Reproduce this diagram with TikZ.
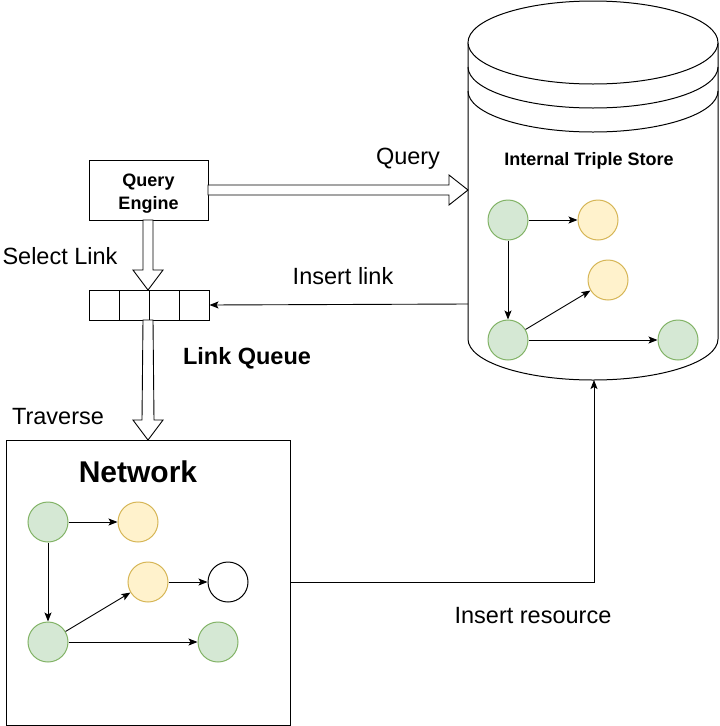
\documentclass[tikz,border=0pt]{standalone}
\usepackage{fontspec}
\setmainfont{Liberation Sans}
\usetikzlibrary{arrows.meta}
\begin{document}
\begin{tikzpicture}[x=1pt,y=-1pt,line width=1pt,
  lbl/.style={font=\fontsize{23.5}{27}\selectfont, inner sep=0pt, anchor=base},
  blbl/.style={font=\bfseries\fontsize{18}{23}\selectfont, inner sep=0pt, anchor=base},
  gnode/.style={circle, minimum size=40pt, inner sep=0pt, draw={rgb,255:red,130;green,179;blue,102}, fill={rgb,255:red,213;green,232;blue,212}},
  ynode/.style={circle, minimum size=40pt, inner sep=0pt, draw={rgb,255:red,214;green,182;blue,86}, fill={rgb,255:red,255;green,242;blue,204}},
  wnode/.style={circle, minimum size=40pt, inner sep=0pt, draw=black, fill=white},
  arr/.style={-{Stealth[length=9pt,width=7pt,inset=2pt]}, line width=0.9pt},
  hollow/.style={draw=black, fill=white, line width=0.9pt}]
\useasboundingbox (0,0) rectangle (720,726);

% ---- cylinder (Internal Triple Store)
\draw[fill=white] (468,43) -- (468,339)
  .. controls (468,361.6) and (524,380) .. (593,380)
  .. controls (662,380) and (718,361.6) .. (718,339) -- (718,43);
\draw[fill=white] (593,42.5) ellipse [x radius=125pt, y radius=41.5pt];
\draw (468,67) .. controls (468,89.6) and (524,108) .. (593,108)
  .. controls (662,108) and (718,89.6) .. (718,67);
\draw (468,91) .. controls (468,113.6) and (524,132) .. (593,132)
  .. controls (662,132) and (718,113.6) .. (718,91);
\coordinate (storeL) at (468,304);
\coordinate (storeB) at (594,380);
\node[blbl] (its) at (589,165) {Internal Triple Store};

\node[gnode] (s1) at (508,220) {};
\node[ynode] (s2) at (598,220) {};
\node[ynode] (s3) at (608,280) {};
\node[gnode] (s4) at (508,340) {};
\node[gnode] (s5) at (678,340) {};
\draw[arr] (s1) -- (s2);
\draw[arr] (s1) -- (s4);
\draw[arr] (s4) -- (s3);
\draw[arr] (s4) -- (s5);

% ---- Query Engine
\node[draw, minimum width=119pt, minimum height=60pt, inner sep=0pt] (qe) at (148.5,190) {};
\node[font=\bfseries\fontsize{18}{23}\selectfont, align=center, inner sep=0pt] (qetext) at (148.5,194) {Query\\Engine};

% ---- Link queue
\node[draw, minimum width=120pt, minimum height=30pt, inner sep=0pt] (queue) at (149,305) {};
\draw (119,290) -- (119,320) (149,290) -- (149,320) (179,290) -- (179,320);

% ---- Network box
\node[draw, minimum width=284pt, minimum height=285pt, inner sep=0pt] (net) at (148,582.5) {};
\node[font=\bfseries\fontsize{30}{34}\selectfont, inner sep=0pt, anchor=base] (nettitle) at (138,482) {Network};

\node[gnode] (n1) at (48,522) {};
\node[ynode] (n2) at (138,522) {};
\node[ynode] (n3) at (148,582) {};
\node[wnode] (n4) at (228,582) {};
\node[gnode] (n5) at (48,642) {};
\node[gnode] (n6) at (218,642) {};
\draw[arr] (n1) -- (n2);
\draw[arr] (n1) -- (n5);
\draw[arr] (n5) -- (n3);
\draw[arr] (n3) -- (n4);
\draw[arr] (n5) -- (n6);

% ---- hollow arrows
\draw[hollow] (208,185) -- (449,185) -- (449,175) -- (468,190) -- (449,205) -- (449,195) -- (208,195) -- cycle;
\draw[hollow] (143,220) -- (143,270) -- (133,270) -- (148,290) -- (163,270) -- (153,270) -- (153,220) -- cycle;
\draw[hollow] (143,320) -- (142,420) -- (133,420) -- (148,440) -- (163,420) -- (154,420) -- (153,320) -- cycle;

% ---- connectors
\draw[arr] (storeL) -- (queue.east);
\draw[arr] (net.east) -| (storeB);

% ---- labels
\node[lbl] (lq) at (408,164) {Query};
\node[lbl] (lsel) at (60,264) {Select Link};
\node[lbl] (lins) at (343,284) {Insert link};
\node[font=\bfseries\fontsize{23.5}{27}\selectfont, inner sep=0pt, anchor=base] (llq) at (247,364) {Link Queue};
\node[lbl] (ltr) at (58,424) {Traverse};
\node[lbl] (lres) at (533,623) {Insert resource};
\end{tikzpicture}
\end{document}
